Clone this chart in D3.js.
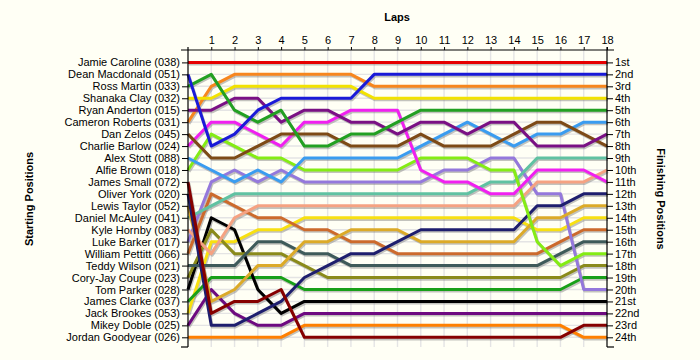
<!DOCTYPE html>
<html><head><meta charset="utf-8">
<script src="https://cdn.jsdelivr.net/npm/d3@7/dist/d3.min.js"></script>
<style>
html,body{margin:0;padding:0;background:#fffff5;}
svg{display:block;font-family:"Liberation Sans",Arial,sans-serif;}
</style></head>
<body>
<svg id="chart" width="700" height="360"></svg>
<script>
// ---- data ----
const laps = d3.range(0, 19);                 // lap 0 = start
const lapTickLabels = d3.range(1, 19);
const drivers = [
  "Jamie Caroline (038)","Dean Macdonald (051)","Ross Martin (033)","Shanaka Clay (032)",
  "Ryan Anderton (015)","Cameron Roberts (031)","Dan Zelos (045)","Charlie Barlow (024)",
  "Alex Stott (088)","Alfie Brown (018)","James Small (072)","Oliver York (020)",
  "Lewis Taylor (052)","Daniel McAuley (041)","Kyle Hornby (083)","Luke Barker (017)",
  "William Pettitt (066)","Teddy Wilson (021)","Cory-Jay Coupe (023)","Tom Parker (028)",
  "James Clarke (037)","Jack Brookes (053)","Mikey Doble (025)","Jordan Goodyear (026)"
];
const finishLabels = ["1st","2nd","3rd","4th","5th","6th","7th","8th","9th","10th","11th","12th",
  "13th","14th","15th","16th","17th","18th","19th","20th","21st","22nd","23rd","24th"];
// race position of each driver at laps 0..18 (same order as drivers)
const lapPositions = [
  [1,1,1,1,1,1,1,1,1,1,1,1,1,1,1,1,1,1,1],
  [2,8,7,5,4,4,4,4,2,2,2,2,2,2,2,2,2,2,2],
  [3,2,5,6,5,8,8,7,7,6,5,5,5,5,5,5,5,5,5],
  [4,4,3,3,3,3,3,3,4,4,4,4,4,4,4,4,4,4,4],
  [5,5,4,4,6,5,5,6,6,7,6,6,7,6,6,8,8,8,7],
  [6,3,2,2,2,2,2,2,3,3,3,3,3,3,3,3,3,3,3],
  [7,9,9,8,7,7,7,8,8,8,7,8,8,8,7,6,6,7,8],
  [8,6,6,7,8,6,6,5,5,5,10,11,11,12,12,10,10,10,11],
  [9,10,11,10,11,9,9,9,9,9,8,7,6,7,8,7,7,6,6],
  [10,7,8,9,9,10,10,10,10,10,9,9,9,10,10,16,18,17,17],
  [11,22,21,21,20,24,24,24,24,24,24,24,24,24,24,24,24,23,23],
  [12,23,23,22,21,19,18,17,17,16,15,15,15,15,15,13,13,12,12],
  [13,21,20,18,18,16,16,15,15,15,16,16,16,16,16,14,14,13,13],
  [14,13,12,12,12,12,12,12,12,12,12,12,12,11,11,9,9,9,9],
  [15,17,14,13,13,13,13,13,13,13,13,13,13,13,13,11,11,11,10],
  [16,11,10,11,10,11,11,11,11,11,11,10,10,9,9,12,12,20,20],
  [17,12,13,14,14,15,15,16,16,17,17,17,17,17,17,17,16,15,15],
  [18,18,18,16,16,17,17,18,18,18,18,18,18,18,18,18,17,16,16],
  [19,15,17,17,17,18,19,19,19,19,19,19,19,19,19,19,19,18,18],
  [20,14,15,20,22,21,21,21,21,21,21,21,21,21,21,21,21,21,21],
  [21,19,19,19,19,20,20,20,20,20,20,20,20,20,20,20,20,19,19],
  [22,16,16,15,15,14,14,14,14,14,14,14,14,14,14,15,15,14,14],
  [23,20,22,23,23,22,22,22,22,22,22,22,22,22,22,22,22,22,22],
  [24,24,24,24,24,23,23,23,23,23,23,23,23,23,23,23,23,24,24]
];
const palette = ["#e60000","#1a1ad8","#22a022","#f2e200","#7a1084","#f7861e","#7d4a16","#f020f0",
  "#3a9cf0","#84ec14","#860000","#1e1e6e","#dcaa28","#60c2a2","#f5a282","#9478dc",
  "#cc6a2c","#3e5a5a","#8a8a1a","#000000","#18a018","#f8e010","#6e0a80","#ff8000"];

(function(){
// ---- chart ----
const svg = d3.select("#chart");
svg.append("rect").attr("width",700).attr("height",360).attr("fill","#fffff5");
const x = d3.scaleLinear().domain([0,18]).range([188,607]);
const y = d3.scaleLinear().domain([1,24]).range([62.4,337.3]);
const yTop = 50, yBot = 347;

// grid
const grid = svg.append("g").attr("stroke","#e4e4e4").attr("stroke-width",1.4);
grid.selectAll("line.v").data(d3.range(1,18)).join("line")
  .attr("x1",d=>x(d)).attr("x2",d=>x(d)).attr("y1",yTop).attr("y2",yBot);
grid.selectAll("line.h").data(d3.range(1,25)).join("line")
  .attr("x1",x(0)).attr("x2",x(18)).attr("y1",d=>y(d)).attr("y2",d=>y(d));

// lines
const line = d3.line().x((d,i)=>x(laps[i])).y(d=>y(d));
const order = d3.range(drivers.length).reverse();
const lg = svg.append("g").attr("fill","none").attr("stroke-linejoin","round");
lg.selectAll("path.sh").data(order).join("path")
  .attr("d",i=>line(lapPositions[i])).attr("stroke","#7a7a7a").attr("stroke-opacity",0.45)
  .attr("stroke-width",3).attr("transform","translate(1,1.6)");
lg.selectAll("path.ln").data(order).join("path")
  .attr("d",i=>line(lapPositions[i])).attr("stroke",i=>palette[i]).attr("stroke-width",3);

// axes
const fs = "11px";
const ax = svg.append("g").attr("transform",`translate(0,${yTop})`)
  .call(d3.axisTop(x).tickValues(lapTickLabels).tickSize(3).tickPadding(3).tickSizeOuter(0));
ax.selectAll("text").attr("font-size",fs).attr("fill","#000");
ax.select(".domain").remove();
ax.attr("font-family",null);

const ay = svg.append("g").attr("transform",`translate(${x(0)},0)`)
  .call(d3.axisLeft(y).tickValues(d3.range(1,25)).tickFormat(d=>drivers[d-1]).tickSize(6).tickPadding(2));
ay.selectAll("text").attr("font-size",fs).attr("fill","#000");
ay.select(".domain").remove();
ay.attr("font-family",null);

const ar = svg.append("g").attr("transform",`translate(${x(18)},0)`)
  .call(d3.axisRight(y).tickValues(d3.range(1,25)).tickFormat(d=>finishLabels[d-1]).tickSize(6).tickPadding(2));
ar.selectAll("text").attr("font-size",fs).attr("fill","#000");
ar.select(".domain").remove();
ar.attr("font-family",null);

// frame lines
const fr = svg.append("g").attr("stroke","#000").attr("stroke-width",1.2);
fr.append("line").attr("x1",x(0)-7).attr("x2",x(18)+7).attr("y1",yTop).attr("y2",yTop);
fr.append("line").attr("x1",x(0)).attr("x2",x(0)).attr("y1",yTop-3).attr("y2",yBot);
fr.append("line").attr("x1",x(18)).attr("x2",x(18)).attr("y1",yTop-3).attr("y2",yBot);
fr.append("line").attr("x1",x(0)-7).attr("x2",x(0)).attr("y1",yBot).attr("y2",yBot);
fr.append("line").attr("x1",x(18)).attr("x2",x(18)+7).attr("y1",yBot).attr("y2",yBot);

// titles
svg.append("text").attr("x",397).attr("y",21).attr("text-anchor","middle")
  .attr("font-size",fs).attr("font-weight","bold").text("Laps");
svg.append("text").attr("transform","translate(33,199) rotate(-90)").attr("text-anchor","middle")
  .attr("font-size",fs).attr("font-weight","bold").text("Starting Positions");
svg.append("text").attr("transform","translate(657,199) rotate(90)").attr("text-anchor","middle")
  .attr("font-size",fs).attr("font-weight","bold").text("Finishing Positions");
})();
</script>
</body></html>
